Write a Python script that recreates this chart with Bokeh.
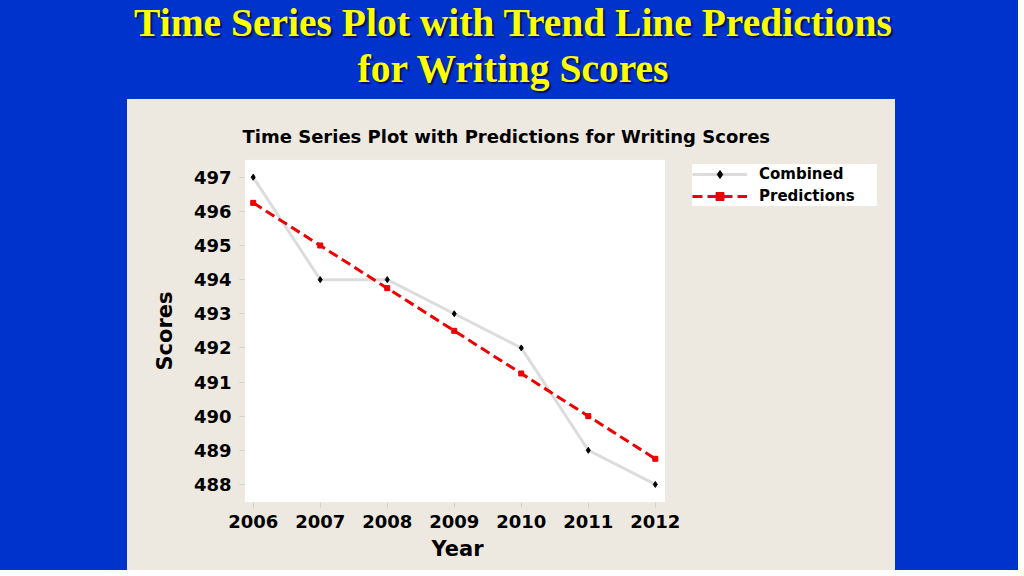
from bokeh.plotting import figure
from bokeh.models import Div, Spacer, Legend, LegendItem, FixedTicker, BoxAnnotation, Title
from bokeh.layouts import column, row
from bokeh.embed import file_html
from bokeh.resources import INLINE

# ---- data ----
years = [2006, 2007, 2008, 2009, 2010, 2011, 2012]
combined = [497, 494, 494, 493, 492, 489, 488]
predictions = [496.25, 495.0, 493.75, 492.5, 491.25, 490.0, 488.75]
y_ticks = [488, 489, 490, 491, 492, 493, 494, 495, 496, 497]

slide_title = ["Time Series Plot with Trend Line Predictions", "for Writing Scores"]
chart_title = "Time Series Plot with Predictions for Writing Scores"
x_label = "Year"
y_label = "Scores"
series_names = ["Combined", "Predictions"]

BLUE = "#0033cc"
BEIGE = "#ede9e0"
FONT = "DejaVu Sans"

# visible data area (x) and extended frame to host the legend on the right
X_LO, X_HI = 2005.87, 2012.15
X_FRAME_HI = 2015.39

# ---- slide title ----
title_html = (
    '<div style="width:1008px;text-align:center;font-family:\'Liberation Serif\';'
    'font-weight:bold;font-size:39.5px;line-height:46px;color:#ffff00;'
    'text-shadow:2px 2px 1px #001466;position:relative;top:-5px;left:4px;">'
    + slide_title[0] + "<br>" + slide_title[1] + "</div>"
)
div = Div(text=title_html, width=1008, height=89,
          styles={"background-color": BLUE})

# ---- chart ----
p = figure(width=768, height=471,
           x_range=(X_LO, X_FRAME_HI), y_range=(487.47, 497.52),
           output_backend="svg", toolbar_location=None,
           min_border_left=117, min_border_right=13,
           min_border_top=60, min_border_bottom=68,
           background_fill_color=BEIGE, border_fill_color=BEIGE,
           outline_line_color=None, title=chart_title,
           styles={"background-color": BEIGE})

# white plotting area
p.add_layout(BoxAnnotation(left=X_LO, right=X_HI, fill_color="white", fill_alpha=1.0,
                           line_color="#dedbd3", line_width=1, level="underlay"))

p.title.text_font = FONT
p.title.text_font_style = "bold"
p.title.text_font_size = "18px"
p.title.text_color = "black"
p.title.align = "left"
p.title.offset = -2
p.title.standoff = 25

p.grid.visible = False

p.xaxis.ticker = FixedTicker(ticks=years)
p.yaxis.ticker = FixedTicker(ticks=y_ticks)
for ax in (p.xaxis, p.yaxis):
    ax.axis_line_color = None
    ax.major_tick_line_color = "#cfcfcf"
    ax.major_tick_out = 5
    ax.major_tick_in = 0
    ax.minor_tick_line_color = None
    ax.major_label_text_font = FONT
    ax.major_label_text_font_style = "bold"
    ax.major_label_text_font_size = "18px"
    ax.major_label_text_color = "black"
    ax.axis_label_text_font = FONT
    ax.axis_label_text_font_style = "bold"
    ax.axis_label_text_font_size = "21px"
    ax.axis_label_text_color = "black"

p.yaxis.axis_label = y_label
p.xaxis.major_label_standoff = 7
p.yaxis.major_label_standoff = 8
p.yaxis.axis_label_standoff = 14

# x-axis label centred under the white data area
p.add_layout(Title(text=x_label, align="left", offset=187, standoff=8,
                   text_font=FONT, text_font_style="bold", text_font_size="21px",
                   text_color="black"), "below")

l1 = p.line(years, combined, line_color="#dcdcdc", line_width=3)
m1 = p.scatter(years, combined, marker="diamond", size=6, color="black")
l2 = p.line(years, predictions, line_color="#ee0000", line_width=3, line_dash="10 5")
m2 = p.scatter(years, predictions, marker="square", size=5, color="#ee0000")

legend = Legend(items=[LegendItem(label=series_names[0], renderers=[l1, m1]),
                       LegendItem(label=series_names[1], renderers=[l2, m2])],
                location="top_right", margin=5, padding=9, spacing=2,
                glyph_width=55, glyph_height=20, label_height=20,
                label_width=118, label_standoff=12,
                label_text_font=FONT, label_text_font_style="bold",
                label_text_font_size="15px", label_text_color="black",
                background_fill_color="white", background_fill_alpha=1.0,
                border_line_color=None)
p.add_layout(legend, "center")

left_sp = Spacer(width=127, height=471, styles={"background-color": BLUE})
right_sp = Spacer(width=113, height=471, styles={"background-color": BLUE})

layout = column(div, row(left_sp, p, right_sp), styles={"background-color": BLUE})

open("out.html", "w").write(file_html(layout, INLINE))
